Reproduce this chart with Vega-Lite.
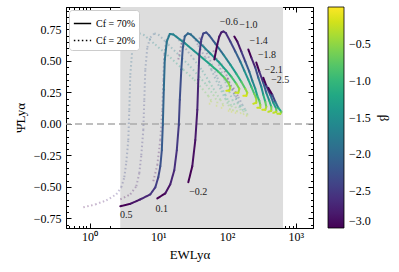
{
  "$schema": "https://vega.github.io/schema/vega-lite/v6.json",
  "width": 247,
  "height": 221,
  "autosize": {"type": "none"},
  "padding": {"left": 66, "top": 7, "right": 86, "bottom": 44},
  "background": "white",
  "config": {"font": "Liberation Serif", "view": {"stroke": "black", "strokeWidth": 1}, "axis": {"grid": false}},
  "datasets": {
    "curves": [
      {"s":"a1","cf":"70%","b":-3.0,"x":2.80,"y":-0.654},
      {"s":"a1","cf":"70%","b":-2.85,"x":3.92,"y":-0.634},
      {"s":"a1","cf":"70%","b":-2.7,"x":5.48,"y":-0.599},
      {"s":"a1","cf":"70%","b":-2.55,"x":7.65,"y":-0.559},
      {"s":"a1","cf":"70%","b":-2.45,"x":9.05,"y":-0.503},
      {"s":"a1","cf":"70%","b":-2.35,"x":10.0,"y":-0.423},
      {"s":"a1","cf":"70%","b":-2.25,"x":10.7,"y":-0.335},
      {"s":"a1","cf":"70%","b":-2.15,"x":11.25,"y":-0.208},
      {"s":"a1","cf":"70%","b":-2.05,"x":11.63,"y":-0.008},
      {"s":"a1","cf":"70%","b":-1.95,"x":12.02,"y":0.271},
      {"s":"a1","cf":"70%","b":-1.87,"x":12.43,"y":0.511},
      {"s":"a1","cf":"70%","b":-1.8,"x":13.29,"y":0.654},
      {"s":"a1","cf":"70%","b":-1.72,"x":14.69,"y":0.714},
      {"s":"a1","cf":"70%","b":-1.65,"x":16.52,"y":0.71},
      {"s":"a1","cf":"70%","b":-1.5,"x":24.68,"y":0.638},
      {"s":"a1","cf":"70%","b":-1.3,"x":38.14,"y":0.551},
      {"s":"a1","cf":"70%","b":-1.1,"x":57.0,"y":0.471},
      {"s":"a1","cf":"70%","b":-0.9,"x":74.5,"y":0.415},
      {"s":"a1","cf":"70%","b":-0.7,"x":91.1,"y":0.367},
      {"s":"a1","cf":"70%","b":-0.5,"x":104.1,"y":0.327},
      {"s":"a1","cf":"70%","b":-0.35,"x":111.3,"y":0.287},
      {"s":"a1","cf":"70%","b":-0.22,"x":107.6,"y":0.263},
      {"s":"a1","cf":"70%","b":-0.1,"x":97.4,"y":0.263},

      {"s":"a2","cf":"70%","b":-3.0,"x":9.67,"y":-0.591},
      {"s":"a2","cf":"70%","b":-2.85,"x":12.64,"y":-0.551},
      {"s":"a2","cf":"70%","b":-2.7,"x":14.94,"y":-0.479},
      {"s":"a2","cf":"70%","b":-2.6,"x":17.08,"y":-0.367},
      {"s":"a2","cf":"70%","b":-2.5,"x":18.57,"y":-0.208},
      {"s":"a2","cf":"70%","b":-2.4,"x":19.86,"y":-0.008},
      {"s":"a2","cf":"70%","b":-2.3,"x":20.53,"y":0.192},
      {"s":"a2","cf":"70%","b":-2.2,"x":21.59,"y":0.431},
      {"s":"a2","cf":"70%","b":-2.12,"x":22.71,"y":0.607},
      {"s":"a2","cf":"70%","b":-2.05,"x":24.27,"y":0.694},
      {"s":"a2","cf":"70%","b":-1.98,"x":26.84,"y":0.718},
      {"s":"a2","cf":"70%","b":-1.9,"x":29.67,"y":0.71},
      {"s":"a2","cf":"70%","b":-1.7,"x":40.78,"y":0.638},
      {"s":"a2","cf":"70%","b":-1.5,"x":57.0,"y":0.559},
      {"s":"a2","cf":"70%","b":-1.3,"x":77.0,"y":0.487},
      {"s":"a2","cf":"70%","b":-1.1,"x":97.4,"y":0.423},
      {"s":"a2","cf":"70%","b":-0.9,"x":115.1,"y":0.375},
      {"s":"a2","cf":"70%","b":-0.6,"x":136.0,"y":0.319},
      {"s":"a2","cf":"70%","b":-0.4,"x":150.4,"y":0.279},
      {"s":"a2","cf":"70%","b":-0.25,"x":145.5,"y":0.247},
      {"s":"a2","cf":"70%","b":-0.1,"x":131.6,"y":0.247},

      {"s":"a3","cf":"70%","b":-3.0,"x":27.3,"y":-0.463},
      {"s":"a3","cf":"70%","b":-2.9,"x":31.2,"y":-0.335},
      {"s":"a3","cf":"70%","b":-2.8,"x":34.5,"y":-0.128},
      {"s":"a3","cf":"70%","b":-2.7,"x":36.9,"y":0.112},
      {"s":"a3","cf":"70%","b":-2.6,"x":38.14,"y":0.351},
      {"s":"a3","cf":"70%","b":-2.52,"x":39.44,"y":0.551},
      {"s":"a3","cf":"70%","b":-2.45,"x":42.17,"y":0.67},
      {"s":"a3","cf":"70%","b":-2.38,"x":45.09,"y":0.718},
      {"s":"a3","cf":"70%","b":-2.3,"x":49.86,"y":0.726},
      {"s":"a3","cf":"70%","b":-2.2,"x":55.12,"y":0.702},
      {"s":"a3","cf":"70%","b":-2.0,"x":67.4,"y":0.638},
      {"s":"a3","cf":"70%","b":-1.7,"x":88.1,"y":0.551},
      {"s":"a3","cf":"70%","b":-1.4,"x":111.3,"y":0.471},
      {"s":"a3","cf":"70%","b":-1.1,"x":136.0,"y":0.399},
      {"s":"a3","cf":"70%","b":-0.8,"x":160.8,"y":0.335},
      {"s":"a3","cf":"70%","b":-0.5,"x":183.9,"y":0.279},
      {"s":"a3","cf":"70%","b":-0.3,"x":196.6,"y":0.247},
      {"s":"a3","cf":"70%","b":-0.18,"x":190.1,"y":0.223},
      {"s":"a3","cf":"70%","b":-0.08,"x":172.0,"y":0.223},

      {"s":"a4","cf":"70%","b":-3.0,"x":65.2,"y":0.511},
      {"s":"a4","cf":"70%","b":-2.9,"x":72.0,"y":0.63},
      {"s":"a4","cf":"70%","b":-2.82,"x":77.0,"y":0.694},
      {"s":"a4","cf":"70%","b":-2.75,"x":82.4,"y":0.726},
      {"s":"a4","cf":"70%","b":-2.68,"x":88.1,"y":0.734},
      {"s":"a4","cf":"70%","b":-2.6,"x":95.7,"y":0.722},
      {"s":"a4","cf":"70%","b":-2.4,"x":111.3,"y":0.654},
      {"s":"a4","cf":"70%","b":-2.1,"x":131.6,"y":0.575},
      {"s":"a4","cf":"70%","b":-1.8,"x":155.5,"y":0.495},
      {"s":"a4","cf":"70%","b":-1.5,"x":177.8,"y":0.423},
      {"s":"a4","cf":"70%","b":-1.2,"x":203.3,"y":0.351},
      {"s":"a4","cf":"70%","b":-0.9,"x":224.8,"y":0.295},
      {"s":"a4","cf":"70%","b":-0.6,"x":248.5,"y":0.239},
      {"s":"a4","cf":"70%","b":-0.4,"x":265.7,"y":0.2},
      {"s":"a4","cf":"70%","b":-0.25,"x":265.7,"y":0.168},
      {"s":"a4","cf":"70%","b":-0.1,"x":240.3,"y":0.16},

      {"s":"a5","cf":"70%","b":-3.0,"x":127.2,"y":0.694},
      {"s":"a5","cf":"70%","b":-2.8,"x":140.7,"y":0.654},
      {"s":"a5","cf":"70%","b":-2.5,"x":160.8,"y":0.575},
      {"s":"a5","cf":"70%","b":-2.2,"x":183.9,"y":0.495},
      {"s":"a5","cf":"70%","b":-1.9,"x":210.2,"y":0.415},
      {"s":"a5","cf":"70%","b":-1.6,"x":232.4,"y":0.343},
      {"s":"a5","cf":"70%","b":-1.3,"x":257.0,"y":0.279},
      {"s":"a5","cf":"70%","b":-1.0,"x":274.8,"y":0.223},
      {"s":"a5","cf":"70%","b":-0.7,"x":293.8,"y":0.184},
      {"s":"a5","cf":"70%","b":-0.45,"x":303.8,"y":0.152},
      {"s":"a5","cf":"70%","b":-0.25,"x":303.8,"y":0.128},
      {"s":"a5","cf":"70%","b":-0.1,"x":274.8,"y":0.128},

      {"s":"a6","cf":"70%","b":-3.0,"x":203.3,"y":0.591},
      {"s":"a6","cf":"70%","b":-2.7,"x":224.8,"y":0.527},
      {"s":"a6","cf":"70%","b":-2.3,"x":257.0,"y":0.447},
      {"s":"a6","cf":"70%","b":-1.9,"x":284.1,"y":0.367},
      {"s":"a6","cf":"70%","b":-1.5,"x":314.1,"y":0.295},
      {"s":"a6","cf":"70%","b":-1.1,"x":335.8,"y":0.231},
      {"s":"a6","cf":"70%","b":-0.7,"x":359.1,"y":0.176},
      {"s":"a6","cf":"70%","b":-0.4,"x":371.3,"y":0.136},
      {"s":"a6","cf":"70%","b":-0.22,"x":359.1,"y":0.112},
      {"s":"a6","cf":"70%","b":-0.08,"x":324.8,"y":0.112},

      {"s":"a7","cf":"70%","b":-3.0,"x":265.7,"y":0.487},
      {"s":"a7","cf":"70%","b":-2.6,"x":293.8,"y":0.415},
      {"s":"a7","cf":"70%","b":-2.1,"x":335.8,"y":0.327},
      {"s":"a7","cf":"70%","b":-1.6,"x":371.3,"y":0.247},
      {"s":"a7","cf":"70%","b":-1.1,"x":410.5,"y":0.184},
      {"s":"a7","cf":"70%","b":-0.6,"x":438.9,"y":0.136},
      {"s":"a7","cf":"70%","b":-0.3,"x":438.9,"y":0.104},
      {"s":"a7","cf":"70%","b":-0.1,"x":397.0,"y":0.096},

      {"s":"a8","cf":"70%","b":-3.0,"x":335.8,"y":0.367},
      {"s":"a8","cf":"70%","b":-2.5,"x":371.3,"y":0.303},
      {"s":"a8","cf":"70%","b":-1.9,"x":424.5,"y":0.231},
      {"s":"a8","cf":"70%","b":-1.3,"x":469.3,"y":0.168},
      {"s":"a8","cf":"70%","b":-0.7,"x":518.9,"y":0.12},
      {"s":"a8","cf":"70%","b":-0.3,"x":518.9,"y":0.096},
      {"s":"a8","cf":"70%","b":-0.1,"x":469.3,"y":0.088},

      {"s":"a9","cf":"70%","b":-3.0,"x":397.0,"y":0.287},
      {"s":"a9","cf":"70%","b":-2.4,"x":453.9,"y":0.231},
      {"s":"a9","cf":"70%","b":-1.8,"x":501.8,"y":0.176},
      {"s":"a9","cf":"70%","b":-1.2,"x":554.8,"y":0.128},
      {"s":"a9","cf":"70%","b":-0.6,"x":613.4,"y":0.096},
      {"s":"a9","cf":"70%","b":-0.3,"x":593.3,"y":0.08},
      {"s":"a9","cf":"70%","b":-0.1,"x":536.5,"y":0.08},

      {"s":"d1","cf":"20%","b":-3.0,"x":0.8125,"y":-0.662},
      {"s":"d1","cf":"20%","b":-2.85,"x":1.214,"y":-0.639},
      {"s":"d1","cf":"20%","b":-2.7,"x":1.755,"y":-0.607},
      {"s":"d1","cf":"20%","b":-2.55,"x":2.453,"y":-0.559},
      {"s":"d1","cf":"20%","b":-2.45,"x":2.899,"y":-0.503},
      {"s":"d1","cf":"20%","b":-2.35,"x":3.205,"y":-0.423},
      {"s":"d1","cf":"20%","b":-2.25,"x":3.427,"y":-0.303},
      {"s":"d1","cf":"20%","b":-2.15,"x":3.664,"y":-0.128},
      {"s":"d1","cf":"20%","b":-2.05,"x":3.789,"y":0.112},
      {"s":"d1","cf":"20%","b":-1.95,"x":3.918,"y":0.391},
      {"s":"d1","cf":"20%","b":-1.87,"x":4.189,"y":0.591},
      {"s":"d1","cf":"20%","b":-1.8,"x":4.632,"y":0.686},
      {"s":"d1","cf":"20%","b":-1.72,"x":5.295,"y":0.718},
      {"s":"d1","cf":"20%","b":-1.65,"x":6.053,"y":0.71},
      {"s":"d1","cf":"20%","b":-1.5,"x":9.045,"y":0.63},
      {"s":"d1","cf":"20%","b":-1.3,"x":14.94,"y":0.527},
      {"s":"d1","cf":"20%","b":-1.1,"x":23.09,"y":0.431},
      {"s":"d1","cf":"20%","b":-0.9,"x":33.36,"y":0.351},
      {"s":"d1","cf":"20%","b":-0.7,"x":43.61,"y":0.279},
      {"s":"d1","cf":"20%","b":-0.5,"x":53.31,"y":0.223},
      {"s":"d1","cf":"20%","b":-0.35,"x":58.93,"y":0.184},
      {"s":"d1","cf":"20%","b":-0.22,"x":56.99,"y":0.16},
      {"s":"d1","cf":"20%","b":-0.1,"x":51.55,"y":0.16},

      {"s":"d2","cf":"20%","b":-3.0,"x":2.803,"y":-0.599},
      {"s":"d2","cf":"20%","b":-2.85,"x":3.918,"y":-0.559},
      {"s":"d2","cf":"20%","b":-2.7,"x":4.789,"y":-0.495},
      {"s":"d2","cf":"20%","b":-2.6,"x":5.295,"y":-0.391},
      {"s":"d2","cf":"20%","b":-2.5,"x":5.661,"y":-0.247},
      {"s":"d2","cf":"20%","b":-2.4,"x":6.053,"y":-0.048},
      {"s":"d2","cf":"20%","b":-2.3,"x":6.259,"y":0.192},
      {"s":"d2","cf":"20%","b":-2.2,"x":6.472,"y":0.431},
      {"s":"d2","cf":"20%","b":-2.12,"x":6.92,"y":0.607},
      {"s":"d2","cf":"20%","b":-2.05,"x":7.651,"y":0.686},
      {"s":"d2","cf":"20%","b":-1.98,"x":8.747,"y":0.718},
      {"s":"d2","cf":"20%","b":-1.9,"x":10.0,"y":0.71},
      {"s":"d2","cf":"20%","b":-1.7,"x":13.97,"y":0.63},
      {"s":"d2","cf":"20%","b":-1.5,"x":20.19,"y":0.543},
      {"s":"d2","cf":"20%","b":-1.3,"x":29.18,"y":0.455},
      {"s":"d2","cf":"20%","b":-1.1,"x":39.44,"y":0.375},
      {"s":"d2","cf":"20%","b":-0.9,"x":49.86,"y":0.311},
      {"s":"d2","cf":"20%","b":-0.6,"x":63.01,"y":0.231},
      {"s":"d2","cf":"20%","b":-0.4,"x":72.04,"y":0.176},
      {"s":"d2","cf":"20%","b":-0.25,"x":72.04,"y":0.144},
      {"s":"d2","cf":"20%","b":-0.1,"x":65.16,"y":0.144},

      {"s":"d3","cf":"20%","b":-3.0,"x":8.459,"y":-0.455},
      {"s":"d3","cf":"20%","b":-2.9,"x":9.671,"y":-0.327},
      {"s":"d3","cf":"20%","b":-2.8,"x":10.69,"y":-0.128},
      {"s":"d3","cf":"20%","b":-2.7,"x":11.43,"y":0.112},
      {"s":"d3","cf":"20%","b":-2.6,"x":11.82,"y":0.351},
      {"s":"d3","cf":"20%","b":-2.52,"x":12.22,"y":0.551},
      {"s":"d3","cf":"20%","b":-2.45,"x":13.07,"y":0.662},
      {"s":"d3","cf":"20%","b":-2.38,"x":14.45,"y":0.71},
      {"s":"d3","cf":"20%","b":-2.3,"x":15.98,"y":0.718},
      {"s":"d3","cf":"20%","b":-2.2,"x":18.26,"y":0.694},
      {"s":"d3","cf":"20%","b":-2.0,"x":23.09,"y":0.622},
      {"s":"d3","cf":"20%","b":-1.7,"x":32.26,"y":0.519},
      {"s":"d3","cf":"20%","b":-1.4,"x":43.61,"y":0.423},
      {"s":"d3","cf":"20%","b":-1.1,"x":55.12,"y":0.335},
      {"s":"d3","cf":"20%","b":-0.8,"x":67.37,"y":0.255},
      {"s":"d3","cf":"20%","b":-0.5,"x":79.65,"y":0.192},
      {"s":"d3","cf":"20%","b":-0.3,"x":88.06,"y":0.152},
      {"s":"d3","cf":"20%","b":-0.18,"x":85.16,"y":0.128},
      {"s":"d3","cf":"20%","b":-0.08,"x":77.02,"y":0.128},

      {"s":"d4","cf":"20%","b":-3.0,"x":19.53,"y":0.511},
      {"s":"d4","cf":"20%","b":-2.9,"x":21.59,"y":0.63},
      {"s":"d4","cf":"20%","b":-2.82,"x":23.87,"y":0.694},
      {"s":"d4","cf":"20%","b":-2.75,"x":26.39,"y":0.718},
      {"s":"d4","cf":"20%","b":-2.68,"x":29.18,"y":0.718},
      {"s":"d4","cf":"20%","b":-2.6,"x":32.26,"y":0.694},
      {"s":"d4","cf":"20%","b":-2.4,"x":38.14,"y":0.622},
      {"s":"d4","cf":"20%","b":-2.1,"x":48.22,"y":0.527},
      {"s":"d4","cf":"20%","b":-1.8,"x":58.93,"y":0.431},
      {"s":"d4","cf":"20%","b":-1.5,"x":69.67,"y":0.343},
      {"s":"d4","cf":"20%","b":-1.2,"x":82.36,"y":0.263},
      {"s":"d4","cf":"20%","b":-0.9,"x":94.16,"y":0.2},
      {"s":"d4","cf":"20%","b":-0.6,"x":104.1,"y":0.152},
      {"s":"d4","cf":"20%","b":-0.35,"x":111.3,"y":0.12},
      {"s":"d4","cf":"20%","b":-0.2,"x":107.6,"y":0.104},
      {"s":"d4","cf":"20%","b":-0.08,"x":97.36,"y":0.104},

      {"s":"d5","cf":"20%","b":-3.0,"x":39.44,"y":0.686},
      {"s":"d5","cf":"20%","b":-2.7,"x":45.09,"y":0.622},
      {"s":"d5","cf":"20%","b":-2.4,"x":53.31,"y":0.535},
      {"s":"d5","cf":"20%","b":-2.1,"x":63.01,"y":0.447},
      {"s":"d5","cf":"20%","b":-1.8,"x":72.04,"y":0.367},
      {"s":"d5","cf":"20%","b":-1.5,"x":82.36,"y":0.295},
      {"s":"d5","cf":"20%","b":-1.2,"x":94.16,"y":0.231},
      {"s":"d5","cf":"20%","b":-0.9,"x":104.1,"y":0.184},
      {"s":"d5","cf":"20%","b":-0.6,"x":115.1,"y":0.144},
      {"s":"d5","cf":"20%","b":-0.35,"x":123.0,"y":0.112},
      {"s":"d5","cf":"20%","b":-0.2,"x":119.0,"y":0.096},
      {"s":"d5","cf":"20%","b":-0.08,"x":107.6,"y":0.096},

      {"s":"d6","cf":"20%","b":-3.0,"x":63.01,"y":0.583},
      {"s":"d6","cf":"20%","b":-2.6,"x":72.04,"y":0.503},
      {"s":"d6","cf":"20%","b":-2.2,"x":82.36,"y":0.415},
      {"s":"d6","cf":"20%","b":-1.8,"x":94.16,"y":0.335},
      {"s":"d6","cf":"20%","b":-1.4,"x":107.6,"y":0.255},
      {"s":"d6","cf":"20%","b":-1.0,"x":119.0,"y":0.192},
      {"s":"d6","cf":"20%","b":-0.6,"x":131.6,"y":0.136},
      {"s":"d6","cf":"20%","b":-0.35,"x":140.7,"y":0.104},
      {"s":"d6","cf":"20%","b":-0.2,"x":136.0,"y":0.088},
      {"s":"d6","cf":"20%","b":-0.08,"x":123.0,"y":0.088},

      {"s":"d7","cf":"20%","b":-3.0,"x":82.36,"y":0.479},
      {"s":"d7","cf":"20%","b":-2.5,"x":97.36,"y":0.391},
      {"s":"d7","cf":"20%","b":-2.0,"x":111.3,"y":0.303},
      {"s":"d7","cf":"20%","b":-1.5,"x":127.2,"y":0.231},
      {"s":"d7","cf":"20%","b":-1.0,"x":140.7,"y":0.168},
      {"s":"d7","cf":"20%","b":-0.6,"x":155.5,"y":0.12},
      {"s":"d7","cf":"20%","b":-0.3,"x":160.8,"y":0.088},
      {"s":"d7","cf":"20%","b":-0.1,"x":145.5,"y":0.08},

      {"s":"d8","cf":"20%","b":-3.0,"x":100.7,"y":0.367},
      {"s":"d8","cf":"20%","b":-2.4,"x":119.0,"y":0.279},
      {"s":"d8","cf":"20%","b":-1.8,"x":136.0,"y":0.208},
      {"s":"d8","cf":"20%","b":-1.2,"x":155.5,"y":0.144},
      {"s":"d8","cf":"20%","b":-0.6,"x":172.0,"y":0.104},
      {"s":"d8","cf":"20%","b":-0.3,"x":177.8,"y":0.08},
      {"s":"d8","cf":"20%","b":-0.1,"x":160.8,"y":0.072},

      {"s":"d9","cf":"20%","b":-3.0,"x":123.0,"y":0.287},
      {"s":"d9","cf":"20%","b":-2.3,"x":145.5,"y":0.215},
      {"s":"d9","cf":"20%","b":-1.6,"x":166.3,"y":0.152},
      {"s":"d9","cf":"20%","b":-1.0,"x":183.9,"y":0.112},
      {"s":"d9","cf":"20%","b":-0.5,"x":196.6,"y":0.08},
      {"s":"d9","cf":"20%","b":-0.25,"x":196.6,"y":0.064},
      {"s":"d9","cf":"20%","b":-0.1,"x":177.8,"y":0.064}
    ],
    "labs": [
      {"t":"0.5","x":3.43,"y":-0.726},
      {"t":"0.1","x":11.25,"y":-0.674},
      {"t":"−0.2","x":38.1,"y":-0.538},
      {"t":"−0.6","x":106.0,"y":0.805},
      {"t":"−1.0","x":203.3,"y":0.785},
      {"t":"−1.4","x":287.0,"y":0.655},
      {"t":"−1.8","x":380.0,"y":0.55},
      {"t":"−2.1","x":474.0,"y":0.431},
      {"t":"−2.5","x":593.0,"y":0.352}
    ]
  },
  "resolve": {"axis": {"x": "independent", "y": "independent"}},
  "layer": [
    {
      "data": {"values": [{"lo": 2.8, "hi": 650}]},
      "mark": {"type": "rect", "color": "#dddddd"},
      "encoding": {
        "x": {"field": "lo", "type": "quantitative", "scale": {"type": "log", "domain": [0.4553, 1772], "nice": false}, "axis": null},
        "x2": {"field": "hi"}
      }
    },
    {
      "data": {"values": [{"v": 0}]},
      "mark": {"type": "rule", "color": "#aaaaaa", "strokeDash": [7, 4], "strokeWidth": 1.5},
      "encoding": {
        "y": {"field": "v", "type": "quantitative", "scale": {"domain": [-0.826, 0.928], "nice": false, "zero": false}, "axis": null}
      }
    },
    {
      "data": {"name": "curves"},
      "transform": [
        {"filter": "datum.cf == '20%'"},
        {"window": [{"op": "lead", "field": "x", "as": "x2"}, {"op": "lead", "field": "y", "as": "y2"}], "groupby": ["s"], "sort": [{"field": "b", "order": "ascending"}]},
        {"filter": "isValid(datum.x2)"}
      ],
      "mark": {"type": "rule", "strokeWidth": 2, "strokeCap": "butt", "strokeOpacity": 0.3},
      "encoding": {
        "x": {"field": "x", "type": "quantitative", "scale": {"type": "log", "domain": [0.4553, 1772], "nice": false}, "axis": null},
        "x2": {"field": "x2"},
        "y": {"field": "y", "type": "quantitative", "scale": {"domain": [-0.826, 0.928], "nice": false, "zero": false}, "axis": null},
        "y2": {"field": "y2"},
        "color": {"field": "b", "type": "quantitative", "scale": {"scheme": "viridis", "domain": [-3, 0]}},
        "strokeDash": {"field": "cf", "type": "nominal", "scale": {"domain": ["70%", "20%"], "range": [[1, 0], [1.5, 2.5]]}}
      }
    },
    {
      "data": {"name": "curves"},
      "transform": [
        {"filter": "datum.cf == '70%'"},
        {"window": [{"op": "lead", "field": "x", "as": "x2"}, {"op": "lead", "field": "y", "as": "y2"}], "groupby": ["s"], "sort": [{"field": "b", "order": "ascending"}]},
        {"filter": "isValid(datum.x2)"}
      ],
      "mark": {"type": "rule", "strokeWidth": 2, "strokeCap": "round"},
      "encoding": {
        "x": {
          "field": "x", "type": "quantitative",
          "scale": {"type": "log", "domain": [0.4553, 1772], "nice": false},
          "axis": {
            "orient": "bottom",
            "values": [0.5,0.6,0.7,0.8,0.9,1,2,3,4,5,6,7,8,9,10,20,30,40,50,60,70,80,90,100,200,300,400,500,600,700,800,900,1000],
            "labelExpr": "datum.value==1?'10⁰':datum.value==10?'10¹':datum.value==100?'10²':datum.value==1000?'10³':''",
            "tickSize": {"condition": {"test": "datum.value==1||datum.value==10||datum.value==100||datum.value==1000", "value": -5}, "value": -2.5},
            "tickColor": "black", "domainColor": "black", "labelColor": "black",
            "labelFontSize": 12, "labelPadding": 8, "labelOverlap": false, "labelFlush": false, "labelBound": false,
            "title": "EWLyα", "titleFontSize": 13, "titleFontWeight": "normal", "titleColor": "black", "titlePadding": 4
          }
        },
        "x2": {"field": "x2"},
        "y": {
          "field": "y", "type": "quantitative",
          "scale": {"domain": [-0.826, 0.928], "nice": false, "zero": false},
          "axis": {
            "orient": "left",
            "values": [-0.8,-0.75,-0.7,-0.65,-0.6,-0.55,-0.5,-0.45,-0.4,-0.35,-0.3,-0.25,-0.2,-0.15,-0.1,-0.05,0,0.05,0.1,0.15,0.2,0.25,0.3,0.35,0.4,0.45,0.5,0.55,0.6,0.65,0.7,0.75,0.8,0.85,0.9],
            "labelExpr": "abs(datum.value*4-round(datum.value*4))<0.01 ? replace(format(datum.value,'.2f'),'-','−') : ''",
            "tickSize": {"condition": {"test": "abs(datum.value*4-round(datum.value*4))<0.01", "value": -5}, "value": -2.5},
            "tickColor": "black", "domainColor": "black", "labelColor": "black",
            "labelFontSize": 12, "labelPadding": 10, "labelOverlap": false, "labelFlush": false, "labelBound": false,
            "title": "Ψ̄Lyα", "titleFontSize": 13, "titleFontWeight": "normal", "titleColor": "black", "titlePadding": 6
          }
        },
        "y2": {"field": "y2"},
        "color": {
          "field": "b", "type": "quantitative",
          "scale": {"scheme": "viridis", "domain": [-3, 0]},
          "legend": {
            "orient": "right", "offset": 14, "padding": 0,
            "title": "β", "titleOrient": "right", "titleAnchor": "middle", "titleFontSize": 13, "titleFontWeight": "normal", "titleColor": "black", "titlePadding": 6,
            "gradientLength": 221, "gradientThickness": 16, "gradientStrokeColor": "black", "gradientStrokeWidth": 0.8,
            "values": [-3, -2.5, -2, -1.5, -1, -0.5],
            "labelExpr": "replace(format(datum.value,'.1f'),'-','−')",
            "labelFontSize": 12, "labelOffset": 5, "labelColor": "black", "labelOverlap": false, "labelBaseline": "middle"
          }
        },
        "strokeDash": {
          "field": "cf", "type": "nominal",
          "scale": {"domain": ["70%", "20%"], "range": [[1, 0], [1.5, 2.5]]},
          "legend": {
            "orient": "top-left", "offset": 3, "title": null,
            "labelExpr": "'Cf = ' + datum.label",
            "symbolType": "stroke", "symbolStrokeColor": "black", "symbolStrokeWidth": 1.5, "symbolSize": 300, "symbolOpacity": 1,
            "labelFontSize": 10, "labelColor": "black",
            "fillColor": "white", "strokeColor": "#cccccc", "cornerRadius": 3, "padding": 4
          }
        }
      }
    },
    {
      "data": {"name": "labs"},
      "mark": {"type": "text", "fontSize": 10, "color": "#222222", "align": "center", "baseline": "middle"},
      "encoding": {
        "x": {
          "field": "x", "type": "quantitative",
          "scale": {"type": "log", "domain": [0.4553, 1772], "nice": false},
          "axis": {
            "orient": "top", "labels": false, "title": null,
            "values": [0.5,0.6,0.7,0.8,0.9,1,2,3,4,5,6,7,8,9,10,20,30,40,50,60,70,80,90,100,200,300,400,500,600,700,800,900,1000],
            "tickSize": {"condition": {"test": "datum.value==1||datum.value==10||datum.value==100||datum.value==1000", "value": -5}, "value": -2.5},
            "tickColor": "black", "domainColor": "black"
          }
        },
        "y": {
          "field": "y", "type": "quantitative",
          "scale": {"domain": [-0.826, 0.928], "nice": false, "zero": false},
          "axis": {
            "orient": "right", "labels": false, "title": null,
            "values": [-0.8,-0.75,-0.7,-0.65,-0.6,-0.55,-0.5,-0.45,-0.4,-0.35,-0.3,-0.25,-0.2,-0.15,-0.1,-0.05,0,0.05,0.1,0.15,0.2,0.25,0.3,0.35,0.4,0.45,0.5,0.55,0.6,0.65,0.7,0.75,0.8,0.85,0.9],
            "tickSize": {"condition": {"test": "abs(datum.value*4-round(datum.value*4))<0.01", "value": -5}, "value": -2.5},
            "tickColor": "black", "domainColor": "black"
          }
        },
        "text": {"field": "t"}
      }
    }
  ]
}
